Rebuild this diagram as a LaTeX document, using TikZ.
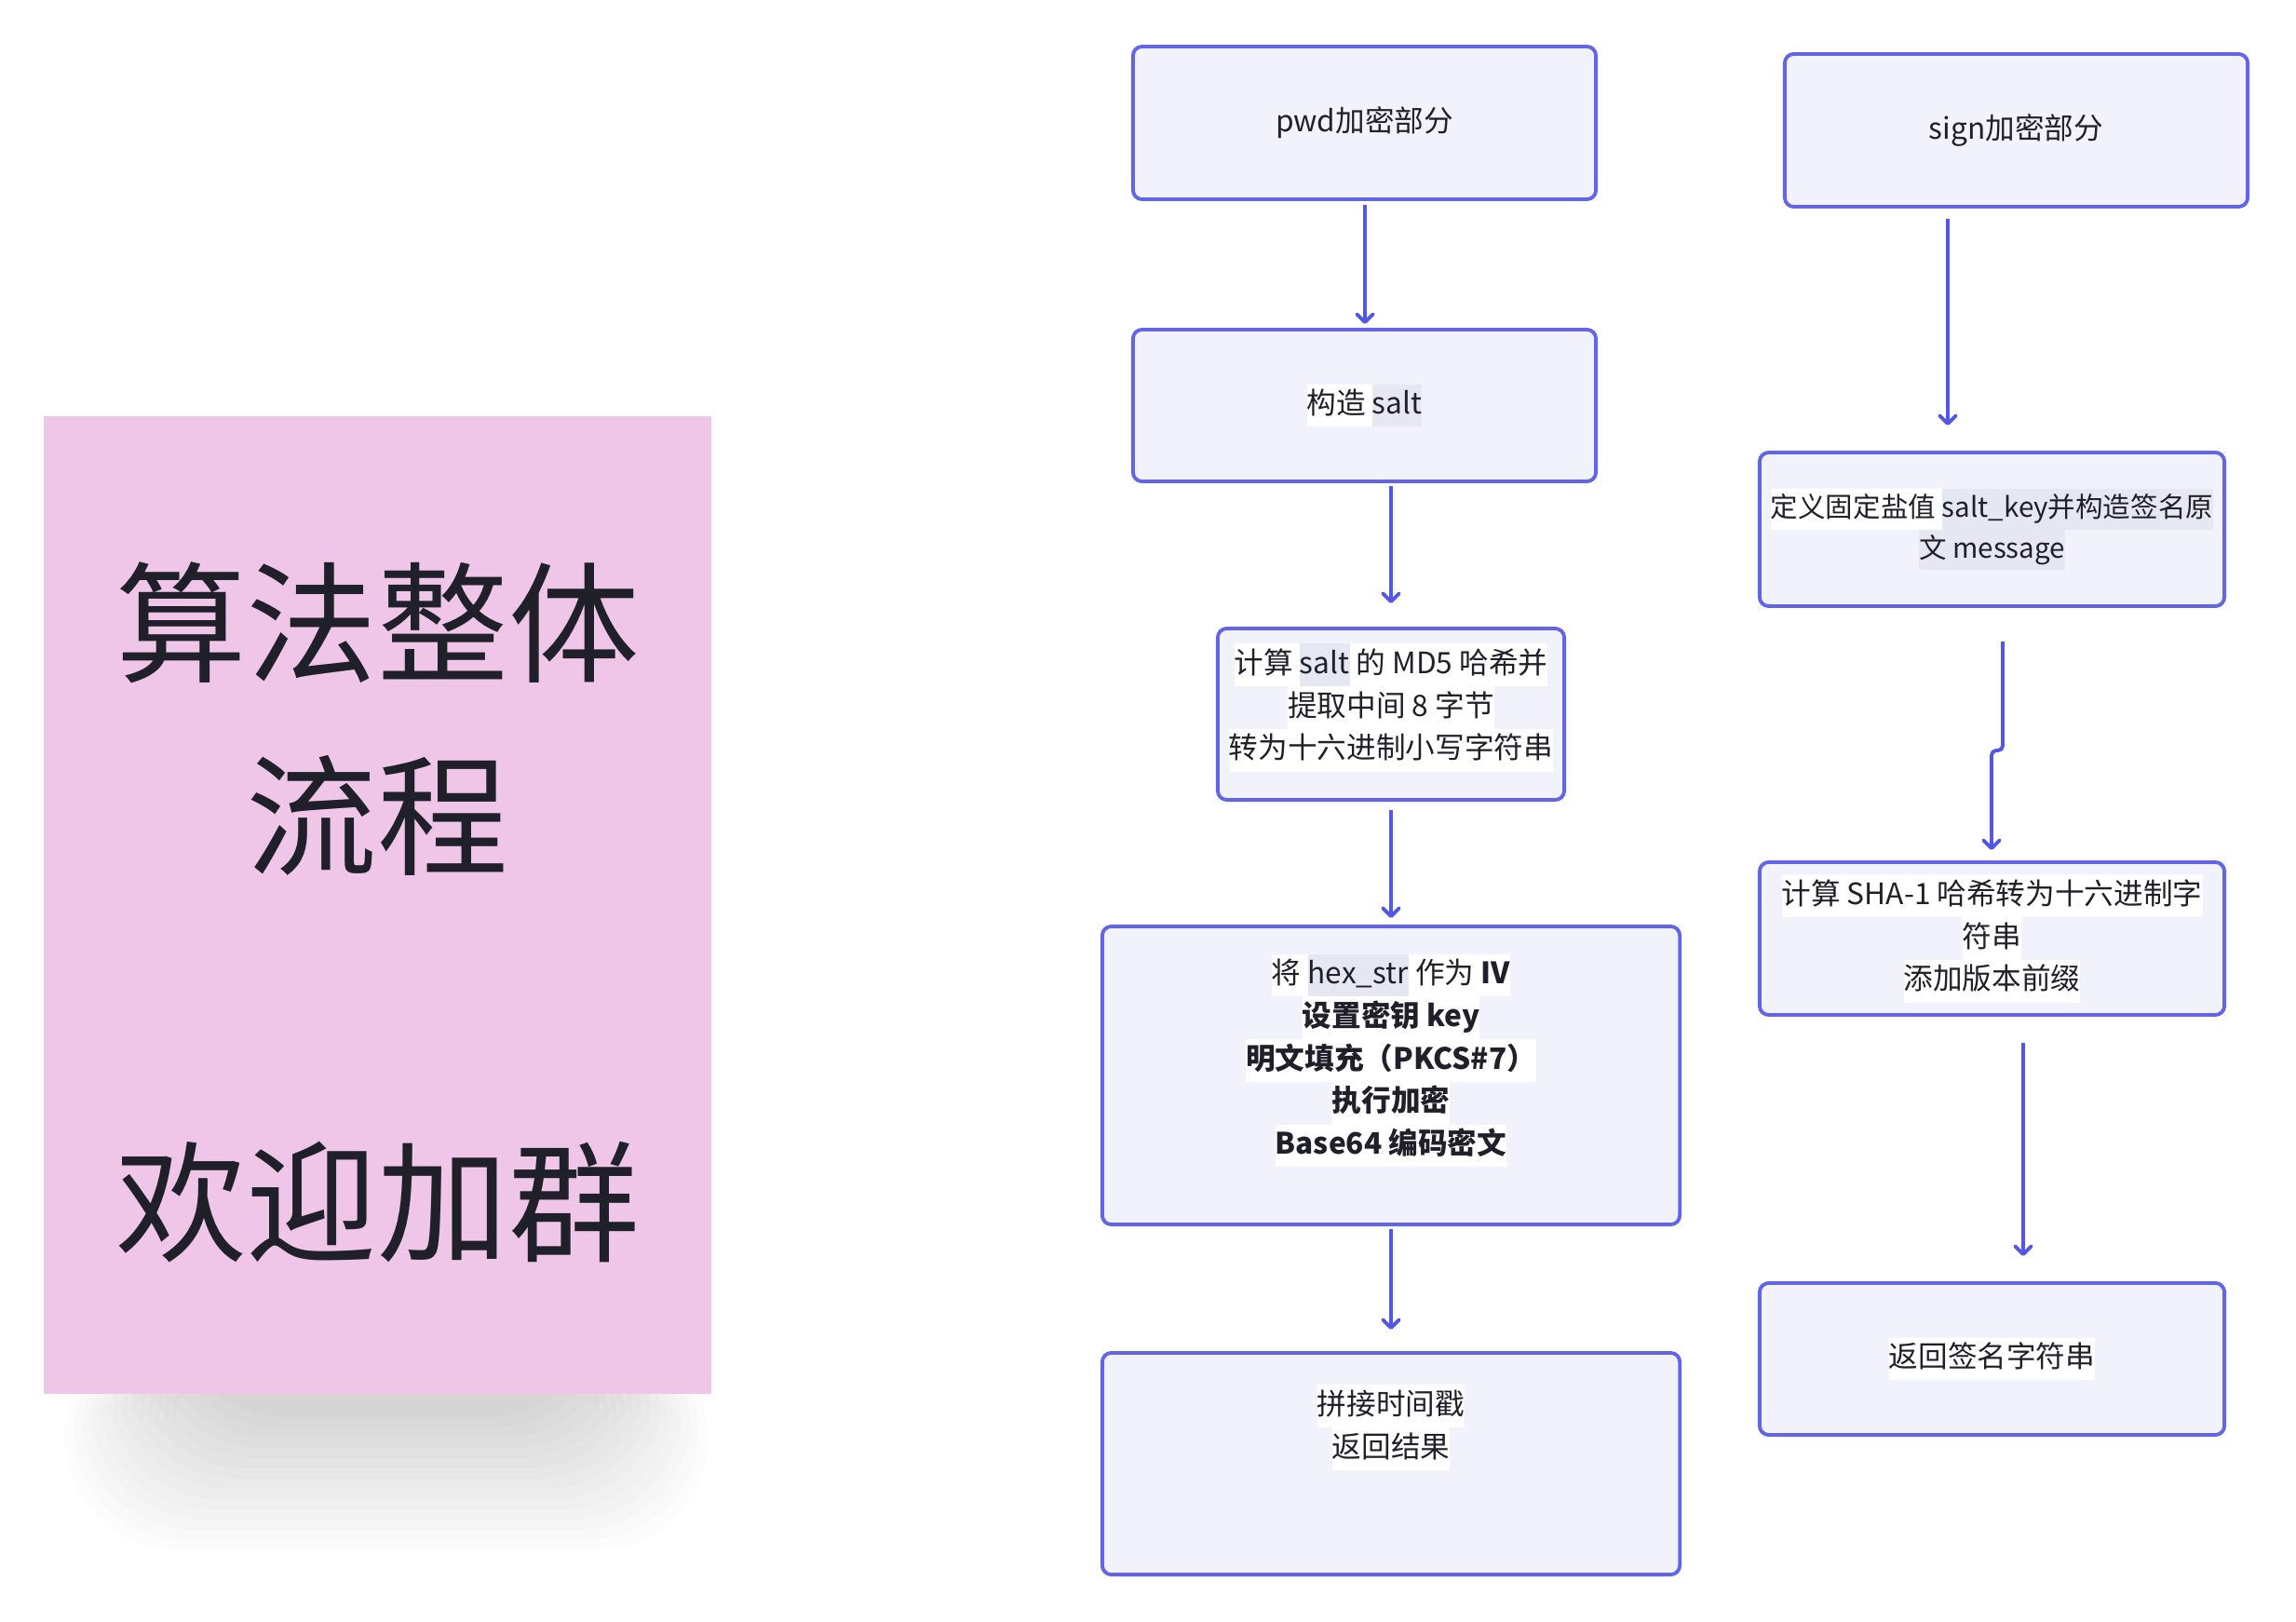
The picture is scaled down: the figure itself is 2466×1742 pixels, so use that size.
\documentclass[tikz,border=0pt]{standalone}
\usepackage{fontspec}
\setmainfont{Noto Sans CJK SC}
\usetikzlibrary{arrows.meta}
\definecolor{boxfill}{RGB}{241,242,252}
\definecolor{boxline}{RGB}{98,102,230}
\definecolor{flowline}{RGB}{82,88,228}
\definecolor{codebg}{RGB}{229,231,242}
\definecolor{notepink}{RGB}{240,198,232}
\definecolor{inkdark}{RGB}{31,32,41}
\newcommand{\onwhite}[1]{{\fboxsep=0pt\colorbox{white}{\strut#1}}}
\newcommand{\oncode}[1]{{\fboxsep=0pt\colorbox{codebg}{\strut#1}}}

\begin{document}
\begin{tikzpicture}[x=0.01cm, y=-0.01cm,
    every node/.style={font=\fontsize{9}{13}\selectfont, text=inkdark},
    stepbox/.style={draw=boxline, fill=boxfill, line width=1.1pt, rounded corners=2.8pt, align=center, inner sep=0pt},
    txt/.style={align=center, inner sep=0pt},
    flow/.style={draw=flowline, line width=1.1pt, -{Straight Barb[angle=90:3.5pt, round]}}]
    \useasboundingbox[fill=white] (0,0) rectangle (2466,1742);
    % shadow under the note
    \foreach \i in {0,...,13}
        \fill[black, opacity=0.012, rounded corners=1.2cm] (70+\i*9,1420) rectangle (760-\i*9,1665-\i*11);
    \node[fill=notepink, minimum width=7.17cm, minimum height=10.5cm, inner sep=0pt] (note) at (405.5,972) {};
    \node[txt, font=\fontsize{40}{59}\selectfont, yshift=-0.08cm] (note-t) at (note) {算法整体\\流程\\[59pt]欢迎加群};
    % pwd part
    \node[stepbox, minimum width=4.97cm, minimum height=1.64cm] (pwd) at (1465.5,132) {pwd加密部分};
    \node[stepbox, minimum width=4.97cm, minimum height=1.63cm] (salt) at (1465.5,435.5) {\onwhite{构造 }\oncode{salt}};
    \node[stepbox, minimum width=3.72cm, minimum height=1.84cm] (md5) at (1494,767) {};
    \node[txt] (md5-t) at (1494,760) {\onwhite{计算 }\oncode{salt}\onwhite{ 的 MD5 哈希并}\\ \onwhite{提取中间 8 字节}\\ \onwhite{转为十六进制小写字符串}};
    \node[stepbox, minimum width=6.2cm, minimum height=3.2cm] (iv) at (1494,1155) {};
    \node[txt] (iv-t) at (1494,1139) {\onwhite{将 }\oncode{hex\_str}\onwhite{ 作为 \textbf{IV}}\\ \onwhite{\textbf{设置密钥 key}}\\ \onwhite{\textbf{明文填充（PKCS\#7）}}\\ \onwhite{\textbf{执行加密}}\\ \onwhite{\textbf{Base64 编码密文}}};
    \node[stepbox, minimum width=6.2cm, minimum height=2.38cm] (ts) at (1494,1572) {};
    \node[txt] (ts-t) at (1494,1533) {\onwhite{拼接时间戳}\\ \onwhite{返回结果}};
    % sign part
    \node[stepbox, minimum width=4.97cm, minimum height=1.64cm] (sign) at (2165.5,140) {sign加密部分};
    \node[stepbox, minimum width=4.99cm, minimum height=1.65cm, font=\fontsize{8.4}{12.5}\selectfont] (key) at (2139.5,568.5) {\onwhite{定义固定盐值 }\oncode{salt\_key并构造签名原}\\ \oncode{文 message}};
    \node[stepbox, minimum width=4.99cm, minimum height=1.64cm] (sha) at (2139.5,1008) {\onwhite{计算 SHA-1 哈希转为十六进制字}\\ \onwhite{符串}\\ \onwhite{添加版本前缀}};
    \node[stepbox, minimum width=4.99cm, minimum height=1.63cm] (ret) at (2139.5,1459.5) {\onwhite{返回签名字符串}};
    \coordinate (xa) at (1466,0);
    \coordinate (xb) at (1494,0);
    \coordinate (xc) at (2092,0);
    \coordinate (xd) at (2151,0);
    \coordinate (xe) at (2139,0);
    \coordinate (xf) at (2173,0);
    \coordinate (jog) at (0,806);
    \draw[flow, shorten <=0.04cm, shorten >=0.04cm] (pwd.south -| xa) -- (salt.north -| xa);
    \draw[flow, shorten <=0.03cm, shorten >=0.25cm] (salt.south -| xb) -- (md5.north -| xb);
    \draw[flow, shorten <=0.09cm, shorten >=0.07cm] (md5.south -| xb) -- (iv.north -| xb);
    \draw[flow, shorten <=0.03cm, shorten >=0.23cm] (iv.south -| xb) -- (ts.north -| xb);
    \draw[flow, shorten <=0.11cm, shorten >=0.27cm] (sign.south -| xc) -- (key.north -| xc);
    \draw[flow, rounded corners=0.05cm, shorten <=0.36cm, shorten >=0.11cm] (key.south -| xd) -- (xd |- jog) -- (xe |- jog) -- (sha.north -| xe);
    \draw[flow, shorten <=0.28cm, shorten >=0.27cm] (sha.south -| xf) -- (ret.north -| xf);
\end{tikzpicture}
\end{document}
